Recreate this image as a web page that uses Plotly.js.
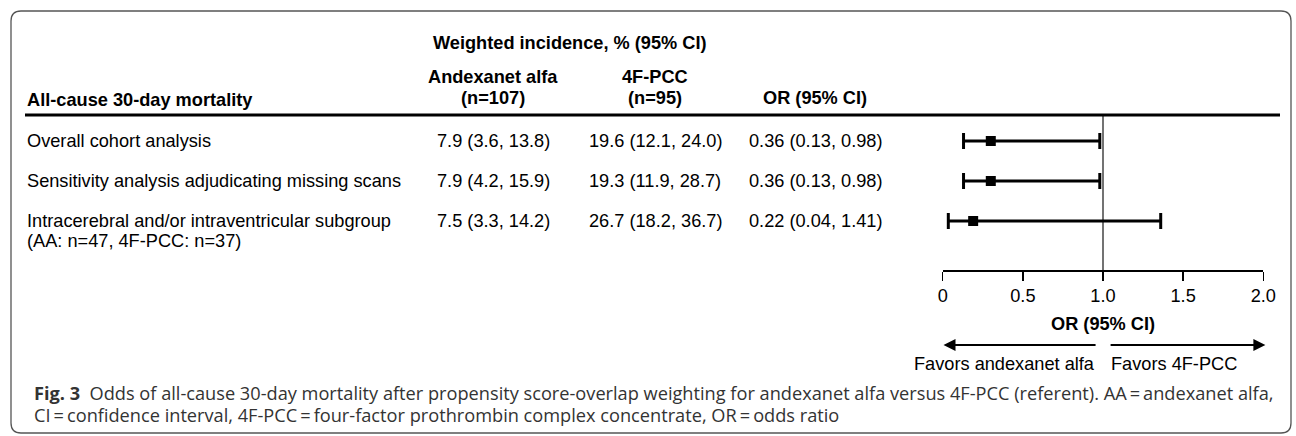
<!DOCTYPE html>
<html>
<head>
<meta charset="utf-8">
<script src="https://cdn.plot.ly/plotly-3.0.1.min.js"></script>
<style>html,body{margin:0;padding:0;background:#fff;}#chart{width:1296px;height:436px;}</style>
</head>
<body>
<div id="chart"></div>
<script>
// ---- data ----
const rowLabels = ['Overall cohort analysis', 'Sensitivity analysis adjudicating missing scans', 'Intracerebral and/or intraventricular subgroup'];
const rowSubLabels = ['', '', '(AA: n=47, 4F-PCC: n=37)'];
const aaIncidence = ['7.9 (3.6, 13.8)', '7.9 (4.2, 15.9)', '7.5 (3.3, 14.2)'];
const pccIncidence = ['19.6 (12.1, 24.0)', '19.3 (11.9, 28.7)', '26.7 (18.2, 36.7)'];
const orText = ['0.36 (0.13, 0.98)', '0.36 (0.13, 0.98)', '0.22 (0.04, 1.41)'];
// plotted positions
const orPoint = [0.30, 0.30, 0.19];
const orLow = [0.13, 0.13, 0.035];
const orHigh = [0.98, 0.98, 1.36];
const rowIndex = [1, 2, 3];
const tickVals = [0, 0.5, 1, 1.5, 2];
const tickText = ['0', '0.5', '1.0', '1.5', '2.0'];
const headerTop = 'Weighted incidence, % (95% CI)';
const colHeaders = [['Andexanet alfa', '(n=107)'], ['4F-PCC', '(n=95)'], ['', 'OR (95% CI)']];
const sectionTitle = 'All-cause 30-day mortality';
const axisTitle = 'OR (95% CI)';
const favorsLeft = 'Favors andexanet alfa';
const favorsRight = 'Favors 4F-PCC';
const captionLine1 = '<b>Fig. 3</b>  Odds of all-cause 30-day mortality after propensity score-overlap weighting for andexanet alfa versus 4F-PCC (referent). AA\u2009=\u2009andexanet alfa,';
const captionLine2 = 'CI\u2009=\u2009confidence interval, 4F-PCC\u2009=\u2009four-factor prothrombin complex concentrate, OR\u2009=\u2009odds ratio';

// ---- layout helpers ----
const W = 1296, H = 436;
const px = v => v / W;
const py = v => 1 - v / H;
const FONT = '"Liberation Sans", Arial, sans-serif';
const CAPFONT = '"Open Sans", "Noto Sans", sans-serif';
const FS = 18.2;

const colCenters = [493, 655, 815];

const trace = {
  type: 'scatter', mode: 'markers',
  x: orPoint, y: rowIndex,
  marker: {symbol: 'square', size: 10, color: '#000'},
  error_x: {
    type: 'data', symmetric: false,
    array: orHigh.map((h, i) => h - orPoint[i]),
    arrayminus: orLow.map((l, i) => orPoint[i] - l),
    color: '#000', thickness: 3, width: 8
  },
  hoverinfo: 'skip', showlegend: false, cliponaxis: false
};

const ann = [];
function txt(text, x, y, opts) {
  ann.push(Object.assign({
    text: text, x: x, y: y, xref: 'paper', yref: 'paper', showarrow: false,
    xanchor: 'left', yanchor: 'middle', font: {family: FONT, size: FS, color: '#000'}
  }, opts || {}));
}
// headers
txt('<b>' + headerTop + '</b>', px(570), py(43), {xanchor: 'center'});
colHeaders.forEach((h, i) => {
  if (h[0]) txt('<b>' + h[0] + '</b>', px(colCenters[i]), py(77), {xanchor: 'center'});
  txt('<b>' + h[1] + '</b>', px(colCenters[i]), py(98), {xanchor: 'center'});
});
txt('<b>' + sectionTitle + '</b>', px(25), py(100));
// rows
rowIndex.forEach((r, i) => {
  txt(rowLabels[i], px(25), r, {yref: 'y'});
  if (rowSubLabels[i]) txt(rowSubLabels[i], px(25), r + 0.5, {yref: 'y'});
  txt(aaIncidence[i], px(colCenters[0]), r, {yref: 'y', xanchor: 'center'});
  txt(pccIncidence[i], px(colCenters[1]), r, {yref: 'y', xanchor: 'center'});
  txt(orText[i], px(colCenters[2]), r, {yref: 'y', xanchor: 'center'});
});
// axis title and favors
txt('<b>' + axisTitle + '</b>', 1, py(324), {xref: 'x', xanchor: 'center'});
txt(favorsLeft, 0.963, py(364), {xref: 'x', xanchor: 'right'});
txt(favorsRight, 1.038, py(364), {xref: 'x', xanchor: 'left'});
// arrows
ann.push({text: '', x: 0.005, y: py(345), xref: 'x', yref: 'paper', ax: 0.963, ay: 0, axref: 'x', ayref: 'pixel',
  showarrow: true, arrowhead: 2, arrowsize: 1.2, arrowwidth: 2, arrowcolor: '#000'});
ann.push({text: '', x: 2.013, y: py(345), xref: 'x', yref: 'paper', ax: 1.038, ay: 0, axref: 'x', ayref: 'pixel',
  showarrow: true, arrowhead: 2, arrowsize: 1.2, arrowwidth: 2, arrowcolor: '#000'});
// caption
txt(captionLine1, px(32), py(393), {font: {family: CAPFONT, size: 18.2, color: '#333'}});
txt(captionLine2, px(32), py(415), {font: {family: CAPFONT, size: 18.2, color: '#333'}});

// frame path (rounded)
const L = 11, T = 11, R = 1291, B = 433, rr = 10;
const P = (x, y) => px(x) + ',' + py(y);
const framePath = 'M' + P(L + rr, T) + ' L' + P(R - rr, T) + ' Q' + P(R, T) + ' ' + P(R, T + rr) +
  ' L' + P(R, B - rr) + ' Q' + P(R, B) + ' ' + P(R - rr, B) +
  ' L' + P(L + rr, B) + ' Q' + P(L, B) + ' ' + P(L, B - rr) +
  ' L' + P(L, T + rr) + ' Q' + P(L, T) + ' ' + P(L + rr, T) + ' Z';

const shapes = [
  {type: 'path', path: framePath, xref: 'paper', yref: 'paper', line: {color: '#555', width: 1.3}},
  {type: 'line', xref: 'paper', yref: 'paper', x0: px(25), x1: px(1280), y0: py(115), y1: py(115), line: {color: '#000', width: 3}},
  {type: 'line', xref: 'x', yref: 'paper', x0: 1, x1: 1, y0: py(270), y1: py(115), line: {color: '#444', width: 1.5}, layer: 'below'}
];

const layout = {
  width: W, height: H,
  margin: {l: 0, r: 0, t: 0, b: 0, pad: 0},
  paper_bgcolor: '#fff', plot_bgcolor: 'rgba(0,0,0,0)',
  showlegend: false,
  xaxis: {
    domain: [px(942.7), px(1263.3)], range: [0, 2], fixedrange: true,
    tickvals: tickVals, ticktext: tickText, ticks: 'outside', ticklen: 9, tickwidth: 1.5, tickcolor: '#000',
    showline: true, linecolor: '#000', linewidth: 1.5, showgrid: false, zeroline: false,
    tickfont: {family: FONT, size: FS, color: '#000'}
  },
  yaxis: {
    domain: [py(270), py(115)], range: [4.225, 0.35], visible: false, fixedrange: true
  },
  shapes: shapes,
  annotations: ann
};

Plotly.newPlot('chart', [trace], layout, {displayModeBar: false, staticPlot: true});
</script>
</body>
</html>
